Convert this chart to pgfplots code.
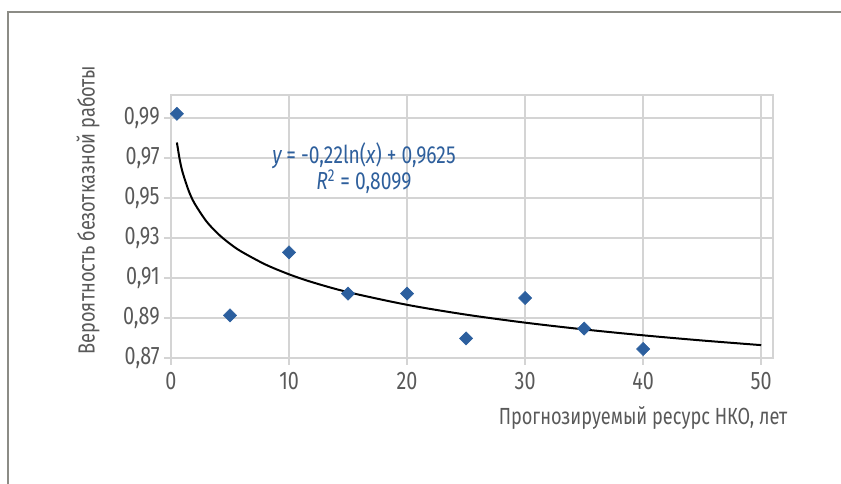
\documentclass[border=0pt]{standalone}
\usepackage{pgfplots}
\pgfplotsset{compat=1.18}
\usepackage{fontspec}
\setmainfont{Fira Sans}[FakeStretch=0.78]
\definecolor{txt}{HTML}{595959}
\definecolor{gridc}{HTML}{D4D4D4}
\definecolor{framec}{HTML}{8C8C86}
\definecolor{mk}{HTML}{2C5F9E}
\definecolor{eqc}{HTML}{2E5F9C}
\begin{document}
\begin{tikzpicture}[x=0.75pt,y=0.75pt]
\path[use as bounding box] (0,0) rectangle (841,484);
\draw[framec, line width=1.5pt] (8,0) -- (8,472) -- (841,472);
\begin{axis}[
  at={(128.25pt,94.5pt)}, anchor=south west,
  scale only axis, width=451.5pt, height=197.25pt,
  xmin=0, xmax=51, ymin=0.87, ymax=1.0015,
  xtick={0,10,20,30,40,50},
  ytick={0.87,0.89,0.91,0.93,0.95,0.97,0.99},
  grid=major,
  major grid style={gridc, line width=1.5pt},
  axis line style={gridc, line width=1.5pt},
  tick style={gridc, line width=1.5pt},
  tick align=outside, major tick length=5pt,
  xtick pos=bottom, ytick pos=left,
  ticklabel style={font=\fontsize{19}{19}\selectfont, text=txt},
  /pgf/number format/assume math mode=true,
  yticklabel style={/pgf/number format/.cd, use comma, fixed, fixed zerofill, precision=2},
  xticklabel style={yshift=-2pt},
  clip=false,
]
\addplot[only marks, mark=square*, mark size=3.5pt, mark options={fill=mk, draw=mk, rotate=45}] coordinates {
(0.5,0.9921) (5,0.8913) (10,0.9228) (15,0.9022) (20,0.9022) (25,0.8798) (30,0.9000) (35,0.8847) (40,0.8745)
};
\addplot[black, line width=1.5pt, smooth] coordinates {
(0.5,0.97775) (0.75,0.96883) (1,0.9625) (1.5,0.95358) (2,0.94725) (3,0.93833) (4,0.93200) (5,0.92709) (6,0.92308) (8,0.91675) (10,0.91184) (12,0.90783) (15,0.90292) (20,0.89659) (25,0.89168) (30,0.88767) (35,0.88428) (40,0.88134) (45,0.87875) (50,0.87644)
};
\end{axis}
\node[rotate=90, text=txt, font=\fontsize{17.5}{17.5}\selectfont] at (88,274) {Вероятность безотказной работы};
\node[text=txt, font=\fontsize{17.5}{17.5}\selectfont] at (643,66) {Прогнозируемый ресурс НКО, лет};
\node[text=eqc, font=\fontsize{18.5}{21}\selectfont, align=center] at (364,316) {\textit{y}\,= -0,22ln(\textit{x}) + 0,9625\\[-1pt]\textit{R}\textsuperscript{2} = 0,8099};
\end{tikzpicture}
\end{document}
